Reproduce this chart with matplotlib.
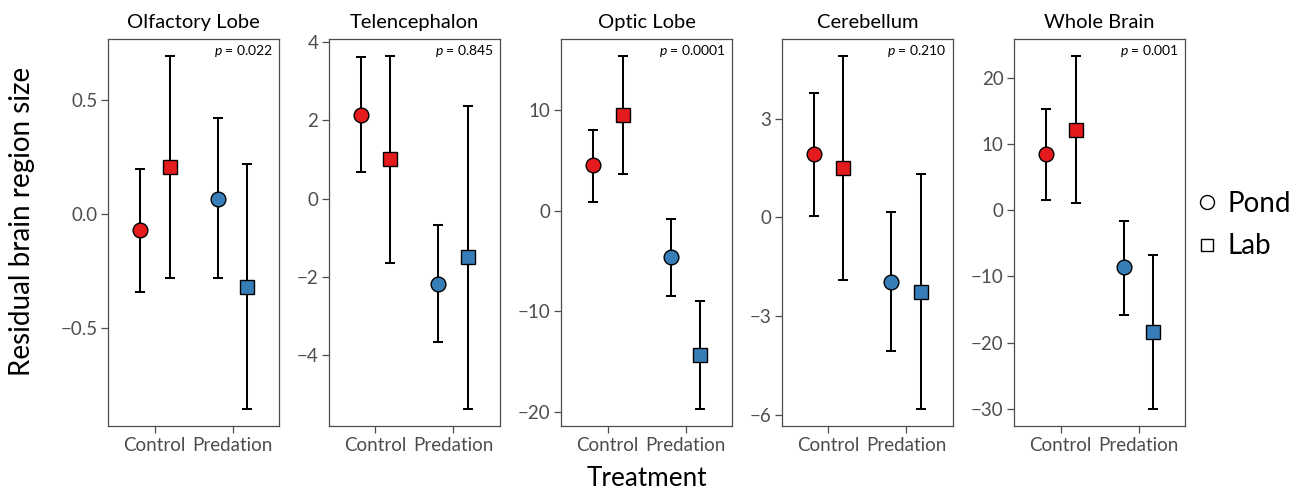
import matplotlib
matplotlib.use('Agg')
import matplotlib.pyplot as plt
from matplotlib.lines import Line2D

plt.rcParams['font.family'] = ['Lato', 'DejaVu Sans']
plt.rcParams['mathtext.fontset'] = 'custom'
plt.rcParams['mathtext.rm'] = 'Lato'
plt.rcParams['mathtext.it'] = 'Lato:italic'

regions = ['Olfactory Lobe', 'Telencephalon', 'Optic Lobe', 'Cerebellum', 'Whole Brain']
p_values = ['0.022', '0.845', '0.0001', '0.210', '0.001']
treatments = ['Control', 'Predation']
origins = ['Pond', 'Lab']

# order in each row: Control-Pond, Control-Lab, Predation-Pond, Predation-Lab
means = [
    [-0.072, 0.207, 0.067, -0.320],
    [2.15, 1.02, -2.18, -1.50],
    [4.49, 9.50, -4.62, -14.37],
    [1.94, 1.51, -1.96, -2.27],
    [8.55, 12.18, -8.64, -18.33],
]
lower = [
    [-0.342, -0.283, -0.283, -0.856],
    [0.69, -1.64, -3.68, -5.38],
    [0.90, 3.59, -8.48, -19.70],
    [0.05, -1.90, -4.05, -5.82],
    [1.62, 1.06, -15.76, -30.00],
]
upper = [
    [0.195, 0.692, 0.421, 0.218],
    [3.62, 3.64, -0.69, 2.36],
    [8.05, 15.34, -0.83, -9.00],
    [3.79, 4.90, 0.15, 1.31],
    [15.30, 23.30, -1.56, -6.71],
]
yticks = [
    [-0.5, 0.0, 0.5],
    [-4, -2, 0, 2, 4],
    [-20, -10, 0, 10],
    [-6, -3, 0, 3],
    [-30, -20, -10, 0, 10, 20],
]

colors = {'Control': '#E41A1C', 'Predation': '#377EB8'}
markers = {'Pond': 'o', 'Lab': 's'}
msizes = {'Pond': 10.6, 'Lab': 9.6}
dodge = {'Pond': -0.19, 'Lab': 0.19}
grey = '#4D4D4D'

W, H = 1302, 491
fig = plt.figure(figsize=(W / 100, H / 100), dpi=100)
lefts = [108, 328.7, 561, 781.7, 1014]
box_w = 171.3
top_px, bot_px = 38.7, 426.3

for i, name in enumerate(regions):
    ax = fig.add_axes([lefts[i] / W, 1 - bot_px / H, box_w / W, (bot_px - top_px) / H])
    k = 0
    for t_i, treat in enumerate(treatments):
        for org in origins:
            x = t_i + 1 + dodge[org]
            m = means[i][k]
            ax.errorbar([x], [m], yerr=[[m - lower[i][k]], [upper[i][k] - m]],
                        fmt='none', ecolor='black', elinewidth=1.45, capsize=3.8,
                        capthick=1.45, zorder=2)
            ax.plot([x], [m], marker=markers[org], ms=msizes[org], mfc=colors[treat],
                    mec='black', mew=1.0, ls='none', zorder=3)
            k += 1
    lo = min(lower[i]); hi = max(upper[i])
    pad = (hi - lo) * 0.05
    ax.set_ylim(lo - pad, hi + pad)
    ax.set_xlim(0.4, 2.6)
    ax.set_xticks([1, 2])
    ax.set_xticklabels(treatments)
    ax.set_yticks(yticks[i])
    ax.tick_params(colors=grey, labelcolor=grey, labelsize=13.5, length=5, width=0.9, pad=2.5)
    for s in ax.spines.values():
        s.set_color(grey)
        s.set_linewidth(0.9)
    ax.set_title(name, fontsize=14.5, pad=8)
    ax.text(0.965, 0.968, r'$\it{p}$ = ' + p_values[i], transform=ax.transAxes,
            ha='right', va='center', fontsize=10)

fig.text(22.5 / W, 1 - 221 / H, 'Residual brain region size', rotation=90,
         ha='center', va='center', fontsize=20)
fig.text(646.7 / W, 1 - 479 / H, 'Treatment', ha='center', va='center', fontsize=18.8)

handles = [Line2D([], [], marker=markers[o], ms=msizes[o] * 0.95, mfc='white', mec='black',
                  mew=1.0, ls='none') for o in origins]
fig.legend(handles, origins, loc='center left', bbox_to_anchor=(1197 / W, 1 - 225 / H),
           frameon=False, fontsize=20, handlelength=0.7, handletextpad=0.4,
           labelspacing=0.6, borderpad=0, borderaxespad=0)

fig.savefig('out.png', dpi=100)
